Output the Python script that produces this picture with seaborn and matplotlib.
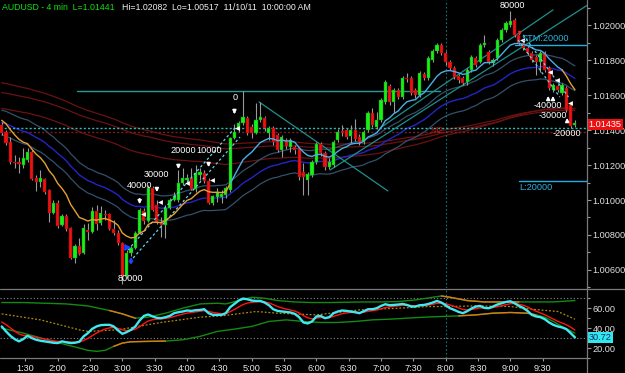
import numpy as np
import pandas as pd
import matplotlib
matplotlib.use("Agg")
import matplotlib.pyplot as plt
from matplotlib.lines import Line2D
import seaborn as sns

sns.set_theme(style="dark")
plt.rcParams['font.family'] = ['Liberation Sans', 'DejaVu Sans']

# ---------------- data ----------------
first_bar_minute = 68          # first bar closes at 1:08
bar_minutes = 4

opens = [1.01430,1.01390,1.01333,1.01218,1.01218,1.01201,1.01229,1.01275,1.01126,1.01103,
         1.01120,1.01057,1.00926,1.00983,1.00857,1.00909,1.00840,1.00668,1.00737,1.00696,
         1.00828,1.00817,1.00937,1.00869,1.00920,1.00920,1.00834,1.00811,1.00754,1.00565,
         1.00696,1.00725,1.00811,1.00937,1.00880,1.01069,1.00972,1.00874,1.00857,1.00954,
         1.01000,1.01000,1.01097,1.01115,1.01126,1.01063,1.01143,1.01155,1.01109,1.00983,
         1.01017,1.01017,1.01029,1.01057,1.01355,1.01401,1.01441,1.01470,1.01419,1.01384,
         1.01459,1.01470,1.01384,1.01413,1.01373,1.01287,1.01344,1.01304,1.01304,1.01298,
         1.01161,1.01115,1.01143,1.01218,1.01321,1.01269,1.01189,1.01201,1.01344,1.01396,
         1.01401,1.01367,1.01401,1.01361,1.01333,1.01401,1.01499,1.01419,1.01459,1.01562,
         1.01653,1.01562,1.01630,1.01590,1.01699,1.01699,1.01630,1.01602,1.01722,1.01699,
         1.01802,1.01854,1.01888,1.01842,1.01791,1.01756,1.01711,1.01699,1.01676,1.01745,
         1.01814,1.01791,1.01888,1.01848,1.01785,1.01814,1.01917,1.01974,1.02003,1.02031,
         1.01946,1.01900,1.01871,1.01842,1.01820,1.01791,1.01842,1.01756,1.01630,1.01653,
         1.01613,1.01642,1.01545,1.01430]
highs = [1.01447,1.01401,1.01361,1.01258,1.01247,1.01298,1.01298,1.01287,1.01143,1.01172,
         1.01126,1.01063,1.01000,1.01000,1.00920,1.00920,1.00846,1.00748,1.00783,1.00863,
         1.00869,1.00960,1.00972,1.00966,1.00943,1.00926,1.00886,1.00828,1.00760,1.00714,
         1.00737,1.00823,1.00954,1.00954,1.01086,1.01080,1.01000,1.00903,1.00972,1.01011,
         1.01046,1.01172,1.01183,1.01149,1.01183,1.01201,1.01183,1.01172,1.01126,1.01029,
         1.01069,1.01057,1.01080,1.01361,1.01436,1.01453,1.01625,1.01481,1.01436,1.01556,
         1.01562,1.01481,1.01424,1.01424,1.01384,1.01373,1.01355,1.01355,1.01315,1.01304,
         1.01212,1.01161,1.01229,1.01333,1.01333,1.01281,1.01241,1.01344,1.01407,1.01430,
         1.01413,1.01430,1.01464,1.01378,1.01401,1.01510,1.01527,1.01504,1.01585,1.01688,
         1.01665,1.01642,1.01642,1.01711,1.01728,1.01711,1.01642,1.01739,1.01734,1.01825,
         1.01865,1.01900,1.01900,1.01854,1.01802,1.01768,1.01722,1.01711,1.01756,1.01831,
         1.01825,1.01900,1.01946,1.01860,1.01814,1.01928,1.01986,1.02026,1.02083,1.02043,
         1.01957,1.01911,1.01882,1.01854,1.01831,1.01854,1.01854,1.01768,1.01671,1.01665,
         1.01671,1.01653,1.01556,1.01459]
lows = [1.01373,1.01315,1.01206,1.01183,1.01155,1.01183,1.01218,1.01115,1.01052,1.01075,
        1.01034,1.00874,1.00920,1.00840,1.00851,1.00823,1.00662,1.00639,1.00685,1.00691,
        1.00771,1.00811,1.00828,1.00857,1.00886,1.00828,1.00800,1.00742,1.00519,1.00553,
        1.00679,1.00719,1.00805,1.00863,1.00874,1.00937,1.00863,1.00788,1.00783,1.00949,
        1.00994,1.00989,1.01086,1.01103,1.01057,1.01046,1.01115,1.01097,1.00977,1.00972,
        1.00989,1.00983,1.01011,1.01046,1.01350,1.01390,1.01430,1.01373,1.01355,1.01378,
        1.01447,1.01396,1.01344,1.01315,1.01275,1.01247,1.01292,1.01275,1.01264,1.01115,
        1.01029,1.01029,1.01132,1.01206,1.01252,1.01172,1.01178,1.01189,1.01333,1.01367,
        1.01350,1.01327,1.01338,1.01315,1.01321,1.01390,1.01419,1.01407,1.01447,1.01550,
        1.01545,1.01499,1.01579,1.01579,1.01676,1.01602,1.01585,1.01590,1.01688,1.01688,
        1.01791,1.01842,1.01831,1.01774,1.01745,1.01693,1.01671,1.01659,1.01659,1.01734,
        1.01762,1.01785,1.01877,1.01779,1.01768,1.01802,1.01905,1.01963,1.01991,1.01934,
        1.01888,1.01860,1.01831,1.01791,1.01716,1.01734,1.01734,1.01630,1.01619,1.01619,
        1.01602,1.01504,1.01413,1.01419]
closes = [1.01384,1.01327,1.01218,1.01212,1.01206,1.01241,1.01275,1.01120,1.01103,1.01126,
          1.01046,1.00926,1.00983,1.00851,1.00909,1.00834,1.00668,1.00737,1.00691,1.00840,
          1.00817,1.00937,1.00863,1.00926,1.00914,1.00834,1.00811,1.00754,1.00565,1.00696,
          1.00725,1.00811,1.00943,1.00880,1.01069,1.00943,1.00874,1.00857,1.00954,1.01000,
          1.01023,1.01097,1.01126,1.01126,1.01063,1.01155,1.01161,1.01109,1.00983,1.01023,
          1.01046,1.01034,1.01069,1.01355,1.01390,1.01441,1.01476,1.01384,1.01384,1.01459,
          1.01476,1.01413,1.01413,1.01333,1.01287,1.01361,1.01310,1.01344,1.01287,1.01132,
          1.01132,1.01149,1.01218,1.01321,1.01269,1.01189,1.01218,1.01333,1.01390,1.01384,
          1.01361,1.01401,1.01350,1.01333,1.01390,1.01499,1.01430,1.01459,1.01573,1.01676,
          1.01562,1.01630,1.01590,1.01699,1.01693,1.01613,1.01602,1.01728,1.01699,1.01814,
          1.01854,1.01888,1.01842,1.01791,1.01756,1.01705,1.01688,1.01671,1.01745,1.01820,
          1.01774,1.01888,1.01900,1.01791,1.01802,1.01917,1.01974,1.02014,1.02026,1.01946,
          1.01900,1.01871,1.01842,1.01802,1.01791,1.01842,1.01745,1.01642,1.01659,1.01630,
          1.01659,1.01516,1.01424,1.01441]

# oscillator (lower panel)
rsi = [41.7,36.7,32.3,29,26.7,29,32.3,30,28.3,27.3,
       26.7,26,25.3,25,26.7,25.7,25,25.3,26.3,31.7,
       35,39.3,41.7,43,43.3,43.3,41.7,37.7,34.3,36,
       38.3,41.7,47.7,52.3,53.7,51.7,50.3,50,51,52.3,
       55,56,56.7,57.7,57.3,58,58.3,59,55,53.3,
       53.3,53.3,55,61,64.3,67.7,69.7,69,67.7,67.3,
       67.3,65.7,63,59,57.3,56.7,56.3,55.7,54.3,51,
       45.7,44.7,46.7,51.7,52.3,50,51,55,56.7,57.7,
       57.3,56.7,56,55,57,59,59,60,62.3,64,
       63,63.3,63.7,64.3,63.3,61.7,61.7,63,63.3,64.3,
       65.7,67.3,65.7,63,60,58.3,56.3,55,57,59.7,
       61.7,62.3,60.3,60,61.7,63.7,65,66.3,67,65,
       62.3,60.3,57.3,53.3,51.7,51,49,45.7,43.3,41.7,
       40.7,39,35,30.72]
upper_idx = [0,5,10,15,20,25,28,31,34,38,42,46,50,52,55,58,61,64,68,72,76,80,84,88,92,96,
             100,102,104,108,112,116,120,124,128,133]
upper_val = [65.7,65.7,65,64.3,62.3,57.7,54.3,50,51,55,60,64.3,65,64.3,67.7,71,70,67.7,66.3,
             65.7,65.7,66,66.3,66.3,66.7,68.3,71,72.3,71,67.7,66.3,66.3,66.3,66.3,66.3,67.7]
lower_idx = [0,5,10,15,18,20,22,24,26,28,30,34,38,42,46,50,54,58,62,66,70,74,78,82,86,90,
             94,98,102,106,110,114,118,122,124,126,128,130,133]
lower_val = [40,35,29,23.3,20,17.7,16.7,17.7,21.7,25,26.3,26.7,27,28.3,31.7,36.7,39,41.7,
             46.7,48.3,46.7,45.7,45.7,46.7,48.3,49,50,51,51.7,52.3,53.3,55,55.7,55,53.3,
             51,46.7,41.7,35]
mid_idx = [0,9,18,20,27,37,46,51,59,64,73,83,92,99,103,110,118,123,129,133]
mid_val = [54.3,48.3,38.3,36.7,38.3,45.7,51,52.3,56.7,55,53.3,58.3,60,61.7,61.7,62.3,61.7,
           59,56.7,49]

last_price_label = 1.01435
time_labels = ["1:30","2:00","2:30","3:00","3:30","4:00","4:30","5:00","5:30",
               "6:00","6:30","7:00","7:30","8:00","8:30","9:00","9:30"]
price_ticks = [1.00600, 1.00800, 1.01000, 1.01200, 1.01400, 1.01600, 1.01800, 1.02000]

# annotations: (bar index, price, text)
trade_labels = [(29.8, 1.00553, "80000"), (32.1, 1.01086, "40000"), (36.0, 1.01149, "30000"),
                (42.1, 1.01281, "20000"), (48.1, 1.01281, "10000"), (54.1, 1.01590, "0"),
                (126.7, 1.01542, "-40000"), (127.9, 1.01487, "-30000"), (131.2, 1.01384, "-20000"),
                (118.6, 1.02112, "80000")]
down_arrows = [(32, 1.01023, 1.00960), (36, 1.01086, 1.01029), (41, 1.01218, 1.01161),
               (48, 1.01229, 1.01172), (54, 1.01527, 1.01476)]
up_arrows = [(126.8, 1.01556, 1.01613), (127.9, 1.01556, 1.01613), (131.2, 1.01430, 1.01487)]
left_tri = [(32.8, 1.00920), (36.8, 1.00989), (43.0, 1.01097), (48.8, 1.01115),
            (54.6, 1.01413), (120.8, 1.01917), (127.2, 1.01734), (128.8, 1.01688), (131.8, 1.01556)]

# drawn lines (bar index / price endpoints)
teal_level = (17.5, 101.7, 1.01625)
stm_level = (119.0, 1.01886)
l_level = (120.0, 1.01109)
dotted_cyan_level = 1.01413
dotted_red_level = 1.01390
trend_lines = [(59.7, 1.01562, 89.6, 1.01052), (87.8, 1.01413, 127.9, 1.02089),
               (76.2, 1.01172, 135.8, 1.02115)]
channel_lines = [(29.3, 1.00714, 54.1, 1.01413), (30.5, 1.00668, 55.3, 1.01361),
                 (119.8, 1.01917, 129.5, 1.01590), (121.0, 1.01946, 131.5, 1.01590)]

# ---------------- derived ----------------
n = len(closes)
def tpos(i):
    return first_bar_minute + bar_minutes * np.asarray(i, dtype=float)

df = pd.DataFrame(dict(t=tpos(np.arange(n)), o=opens, h=highs, l=lows, c=closes, rsi=rsi))

def ema(values, span, seed):
    a = 2.0 / (span + 1)
    out, prev = [], seed
    for v in values:
        prev = prev + a * (v - prev)
        out.append(prev)
    return np.array(out)

df['fast'] = ema(closes, 12, 1.01470)
df['slow'] = ema(closes, 36, 1.01447)
df['env_hi'] = df['slow'] * (1 + 0.0007)
df['env_lo'] = df['slow'] * (1 - 0.0007)
df['red1'] = ema(closes, 150, 1.01676)
df['red2'] = ema(closes, 150, 1.01619)
df['red3'] = ema(closes, 120, 1.01527)
df['sig'] = ema(rsi, 6, 48.0)

# ---------------- figure ----------------
W, H = 625, 373
fig = plt.figure(figsize=(W / 100, H / 100), dpi=100, facecolor='black')
def fx(px): return px / W
def fy(py): return 1 - py / H

ax = fig.add_axes([0, fy(288), fx(587), 288 / H])
axl = fig.add_axes([0, fy(358), fx(587), (358 - 289) / H])
XL = (66.42, 611.2)
for a in (ax, axl):
    a.set_facecolor('black')
    a.grid(False)
    for s in a.spines.values():
        s.set_visible(False)
    a.set_xlim(*XL)

ax.set_ylim(1.00496, 1.02146)
axl.set_ylim(10.3, 79.3)

# long moving averages
for col in ['red1', 'red2', 'red3']:
    sns.lineplot(data=df, x='t', y=col, ax=ax, color='#6a1212', lw=0.9, legend=False, zorder=1)
for col in ['env_hi', 'env_lo']:
    sns.lineplot(data=df, x='t', y=col, ax=ax, color='#34506a', lw=0.9, legend=False, zorder=1)
sns.lineplot(data=df, x='t', y='slow', ax=ax, color='#2424c8', lw=1.0, legend=False, zorder=2)

# levels
ax.axhline(dotted_cyan_level, color='#35b8b8', lw=1.0, ls=(0, (1.5, 1.5)), zorder=2)
ax.axhline(dotted_red_level, color='#7a1e1e', lw=1.0, ls=(0, (1.5, 1.5)), zorder=1)
ax.plot(tpos([teal_level[0], teal_level[1]]), [teal_level[2]] * 2, color='#1f9c9c', lw=1.0, zorder=2)
ax.plot([tpos(stm_level[0]), XL[1]], [stm_level[1]] * 2, color='#1eb0e0', lw=1.0, zorder=2)
ax.plot([tpos(l_level[0]), XL[1]], [l_level[1]] * 2, color='#1eb0e0', lw=1.0, zorder=2)
for x0, p0, x1, p1 in trend_lines:
    ax.plot(tpos([x0, x1]), [p0, p1], color='#1f8f8f', lw=0.9, zorder=2)
for x0, p0, x1, p1 in channel_lines:
    ax.plot(tpos([x0, x1]), [p0, p1], color='#60d8e8', lw=0.9, ls=(0, (2, 2)), zorder=5)

# vertical dotted at 8:00
for a in (ax, axl):
    a.axvline(480, color='#1f7070', lw=0.8, ls=(0, (1.5, 2)), zorder=1)

# candles
up = df.c >= df.o
ax.vlines(df.t, df.l, df.h, color='#9a9a9a', lw=0.8, zorder=3)
body_bottom = np.minimum(df.o, df.c)
body_h = np.maximum((df.c - df.o).abs(), 0.000015)
ax.bar(df.t, body_h, bottom=body_bottom, width=2.9,
       color=np.where(up, '#18f018', '#f01010'), edgecolor=np.where(up, '#0a8a0a', '#8a0a0a'),
       linewidth=0.3, zorder=4)

# fast moving average, orange while falling phase, light blue while rising
fast_a = df.iloc[:54]
fast_b = df.iloc[53:131]
fast_c = df.iloc[130:]
sns.lineplot(data=fast_a, x='t', y='fast', ax=ax, color='#e8a030', lw=1.0, legend=False, zorder=5)
sns.lineplot(data=fast_b, x='t', y='fast', ax=ax, color='#4ab0e8', lw=1.0, legend=False, zorder=5)
sns.lineplot(data=fast_c, x='t', y='fast', ax=ax, color='#e8a030', lw=1.0, legend=False, zorder=5)

# trade annotations
for xi, p, s in trade_labels:
    ax.text(tpos(xi), p, s, color='white', fontsize=6.6, ha='center', va='center', zorder=8)
for xi, p0, p1 in down_arrows:
    ax.annotate('', xy=(tpos(xi), p1), xytext=(tpos(xi), p0),
                arrowprops=dict(arrowstyle='-|>', color='white', lw=1.2, mutation_scale=5), zorder=8)
for xi, p0, p1 in up_arrows:
    ax.annotate('', xy=(tpos(xi), p1), xytext=(tpos(xi), p0),
                arrowprops=dict(arrowstyle='-|>', color='white', lw=1.2, mutation_scale=5), zorder=8)
ax.annotate('', xy=(tpos(30), 1.00691), xytext=(tpos(30), 1.00622),
            arrowprops=dict(arrowstyle='-|>', color='#2040ff', lw=1.4, mutation_scale=5), zorder=8)
ax.scatter(tpos(29), 1.00731, marker='>', s=14, color='#2040ff', zorder=8)
ax.annotate('', xy=(tpos(120.2), 1.01928), xytext=(tpos(120.2), 1.01980),
            arrowprops=dict(arrowstyle='-|>', color='#ff2020', lw=1.0, mutation_scale=4), zorder=8)
tri = np.array(left_tri)
ax.scatter(tpos(tri[:, 0]), tri[:, 1], marker='<', s=12, color='white', linewidths=0, zorder=8)
ax.text(tpos(101), 1.01401, 'M2', color='#b01818', fontsize=6.6, ha='center', va='center', zorder=8)
ax.text(tpos(120.5), 1.01928, 'STM:20000', color='#2ab4e0', fontsize=6.6, ha='left', va='center', zorder=8)
ax.text(tpos(120.0), 1.01069, 'L:20000', color='#2ab4e0', fontsize=6.6, ha='left', va='center', zorder=8)

# axis ticks main
ax.set_xticks([])
ax.set_xlabel('')
ax.set_ylabel('')
ax.yaxis.tick_right()
ax.set_yticks(price_ticks)
ax.set_yticklabels([f"{p:.5f}" for p in price_ticks])
ax.set_yticks(np.arange(1.005, 1.0215, 0.001), minor=True)
ax.tick_params(axis='y', which='major', colors='#9a9a9a', labelcolor='#e0e0e0', labelsize=6.6,
               length=3, width=0.8, pad=1, direction='out')
ax.tick_params(axis='y', which='minor', colors='#9a9a9a', length=2, width=0.8, direction='out')
ax.text(1.003, last_price_label, f"{last_price_label:.5f}", transform=ax.get_yaxis_transform(),
        color='white', fontsize=6.6, ha='left', va='center', zorder=10,
        bbox=dict(boxstyle='square,pad=0.12', fc='#ee1010', ec='none'))

# ---------------- lower panel ----------------
axl.axhline(70, color='#8a8a8a', lw=0.8, ls=(0, (1, 2)))
axl.axhline(30, color='#8a8a8a', lw=0.8, ls=(0, (1, 2)))
up_df = pd.DataFrame(dict(t=tpos(upper_idx), v=upper_val))
lo_df = pd.DataFrame(dict(t=tpos(lower_idx), v=lower_val))
mid_df = pd.DataFrame(dict(t=tpos(mid_idx), v=mid_val))
sns.lineplot(data=up_df, x='t', y='v', ax=axl, color='#138a13', lw=1.0, legend=False)
sns.lineplot(data=lo_df, x='t', y='v', ax=axl, color='#138a13', lw=1.0, legend=False)
upper_orange = [(25, 31), (102, 120)]
lower_orange = [(26, 38), (104, 124)]
for a0, a1 in upper_orange:
    seg = up_df[(up_df.t >= tpos(a0)) & (up_df.t <= tpos(a1))]
    sns.lineplot(data=seg, x='t', y='v', ax=axl, color='#e07a10', lw=1.0, legend=False)
for a0, a1 in lower_orange:
    seg = lo_df[(lo_df.t >= tpos(a0)) & (lo_df.t <= tpos(a1))]
    sns.lineplot(data=seg, x='t', y='v', ax=axl, color='#e07a10', lw=1.0, legend=False)
sns.lineplot(data=mid_df, x='t', y='v', ax=axl, color='#b08a10', lw=0.9, ls=(0, (1.5, 1.5)), legend=False)
sns.lineplot(data=df, x='t', y='sig', ax=axl, color='#ff1414', lw=1.0, legend=False)
sns.lineplot(data=df, x='t', y='rsi', ax=axl, color='#40e8f0', lw=1.7, legend=False)

tick_minutes = [90 + 30 * k for k in range(len(time_labels))]
axl.set_xticks(tick_minutes)
axl.set_xticklabels(time_labels)
axl.set_xlabel('')
axl.set_ylabel('')
axl.tick_params(axis='x', colors='#9a9a9a', labelcolor='#e8e8e8', labelsize=6.6, length=2,
                width=0.8, pad=2, direction='out', bottom=True)
axl.yaxis.tick_right()
axl.set_yticks([20, 40, 60])
axl.set_yticklabels(['20.00', '40.00', '60.00'])
axl.set_yticks([10, 30, 50, 70], minor=True)
axl.tick_params(axis='y', which='major', colors='#9a9a9a', labelcolor='#e0e0e0', labelsize=6.6,
                length=3, width=0.8, pad=1, direction='out')
axl.tick_params(axis='y', which='minor', colors='#9a9a9a', length=2, width=0.8, direction='out')
axl.text(1.003, rsi[-1], f"{rsi[-1]:.2f}", transform=axl.get_yaxis_transform(),
         color='#103060', fontsize=6.6, ha='left', va='center', zorder=10,
         bbox=dict(boxstyle='square,pad=0.12', fc='#30e8f0', ec='none'))

# frame lines
fig.add_artist(Line2D([fx(587), fx(587)], [0, 1], color='#7a7a7a', lw=0.9))
fig.add_artist(Line2D([0, 1], [fy(288.5), fy(288.5)], color='#7a7a7a', lw=0.9))
fig.add_artist(Line2D([0, fx(587)], [fy(358), fy(358)], color='#7a7a7a', lw=0.9))

# header
fig.text(fx(2), fy(7), 'AUDUSD - 4 min  L=1.01441', color='#10e010', fontsize=6.3, va='center', ha='left')
fig.text(fx(122), fy(7), 'Hi=1.02082  Lo=1.00517  11/10/11  10:00:00 AM', color='#f0f0f0',
         fontsize=6.3, va='center', ha='left')

fig.savefig('out.png', dpi=100, facecolor='black')
